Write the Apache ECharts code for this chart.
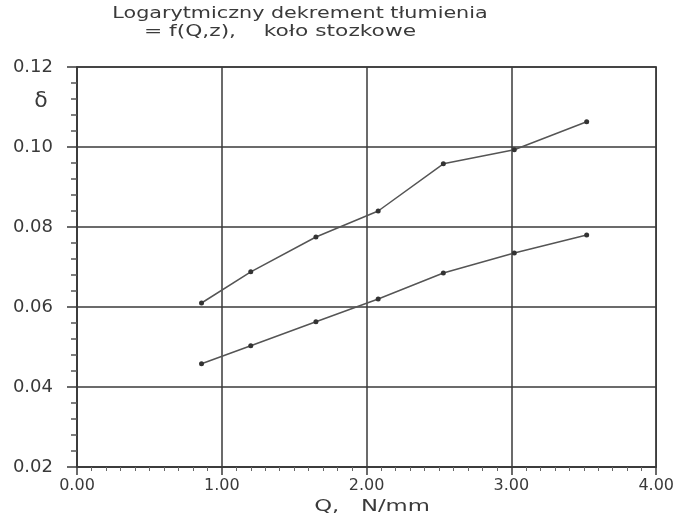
<!DOCTYPE html>
<html>
<head>
<meta charset="utf-8">
<script src="https://cdn.jsdelivr.net/npm/echarts@6/dist/echarts.min.js"></script>
<style>
  html, body { margin: 0; padding: 0; background: #fff; }
  #chart-container { width: 677px; height: 520px; }
</style>
</head>
<body>
<div id="chart-container"></div>
<script>
var dom = document.getElementById('chart-container');
var myChart = echarts.init(dom, null, { renderer: 'canvas' });

// Q, N/mm
const qUpper = [0.86, 1.20, 1.65, 2.08, 2.53, 3.02, 3.52];
const deltaUpper = [0.061, 0.0688, 0.0775, 0.084, 0.0958, 0.0993, 0.1063];
const qLower = [0.86, 1.20, 1.65, 2.08, 2.53, 3.02, 3.52];
const deltaLower = [0.0458, 0.0503, 0.0563, 0.062, 0.0685, 0.0735, 0.078];

const titleLine1 = 'Logarytmiczny dekrement tłumienia';
const titleLine2 = '= f(Q,z),    koło stozkowe';
const xName = 'Q,   N/mm';
const yName = 'δ';

function pairs(xs, ys) {
  return xs.map(function (x, i) { return [x, ys[i]]; });
}

var ink = '#3a3a3a';
var font = 'DejaVu Sans';

// the plotter font is wide, so the texts are stretched a bit
function wideText(text, x, y, size, sx) {
  return {
    type: 'text',
    x: x,
    y: y,
    scaleX: sx,
    style: { text: text, fontFamily: font, fontSize: size, fill: ink, align: 'center', verticalAlign: 'middle' }
  };
}

var option = {
  backgroundColor: '#ffffff',
  grid: { left: 77, right: 18, top: 67, bottom: 53, show: true, borderColor: ink, borderWidth: 1.5 },
  xAxis: {
    type: 'value',
    min: 0,
    max: 4,
    interval: 1,
    axisLine: { show: true, onZero: false, lineStyle: { color: ink, width: 1.5 } },
    axisTick: { show: true, inside: false, length: 8, lineStyle: { color: ink, width: 1.5 } },
    minorTick: { show: true, splitNumber: 10, length: 4, lineStyle: { color: '#666', width: 1 } },
    axisLabel: { fontFamily: font, fontSize: 16, color: ink, margin: 11,
      formatter: function (v) { return v.toFixed(2); } },
    splitLine: { show: true, lineStyle: { color: ink, width: 1.5 } }
  },
  yAxis: {
    type: 'value',
    min: 0.02,
    max: 0.12,
    interval: 0.02,
    axisLine: { show: true, lineStyle: { color: ink, width: 1.5 } },
    axisTick: { show: true, inside: false, length: 10, lineStyle: { color: ink, width: 1.5 } },
    minorTick: { show: true, splitNumber: 5, length: 6, lineStyle: { color: '#555', width: 1.5 } },
    axisLabel: { fontFamily: font, fontSize: 18, color: ink, margin: 24,
      formatter: function (v) { return v.toFixed(2); } },
    splitLine: { show: true, lineStyle: { color: ink, width: 1.5 } }
  },
  graphic: [
    wideText(titleLine1, 300, 14, 15, 1.38),
    wideText(titleLine2, 280, 32, 15, 1.45),
    wideText(xName, 372, 507, 16, 1.42),
    wideText(yName, 41, 101, 22, 1)
  ],
  series: [
    {
      name: 'upper',
      type: 'line',
      data: pairs(qUpper, deltaUpper),
      symbol: 'circle',
      symbolSize: 5,
      lineStyle: { color: '#555', width: 1.5 },
      itemStyle: { color: '#333' }
    },
    {
      name: 'lower',
      type: 'line',
      data: pairs(qLower, deltaLower),
      symbol: 'circle',
      symbolSize: 5,
      lineStyle: { color: '#555', width: 1.5 },
      itemStyle: { color: '#333' }
    }
  ]
};

myChart.setOption(option);
window.addEventListener('resize', myChart.resize);
</script>
</body>
</html>
